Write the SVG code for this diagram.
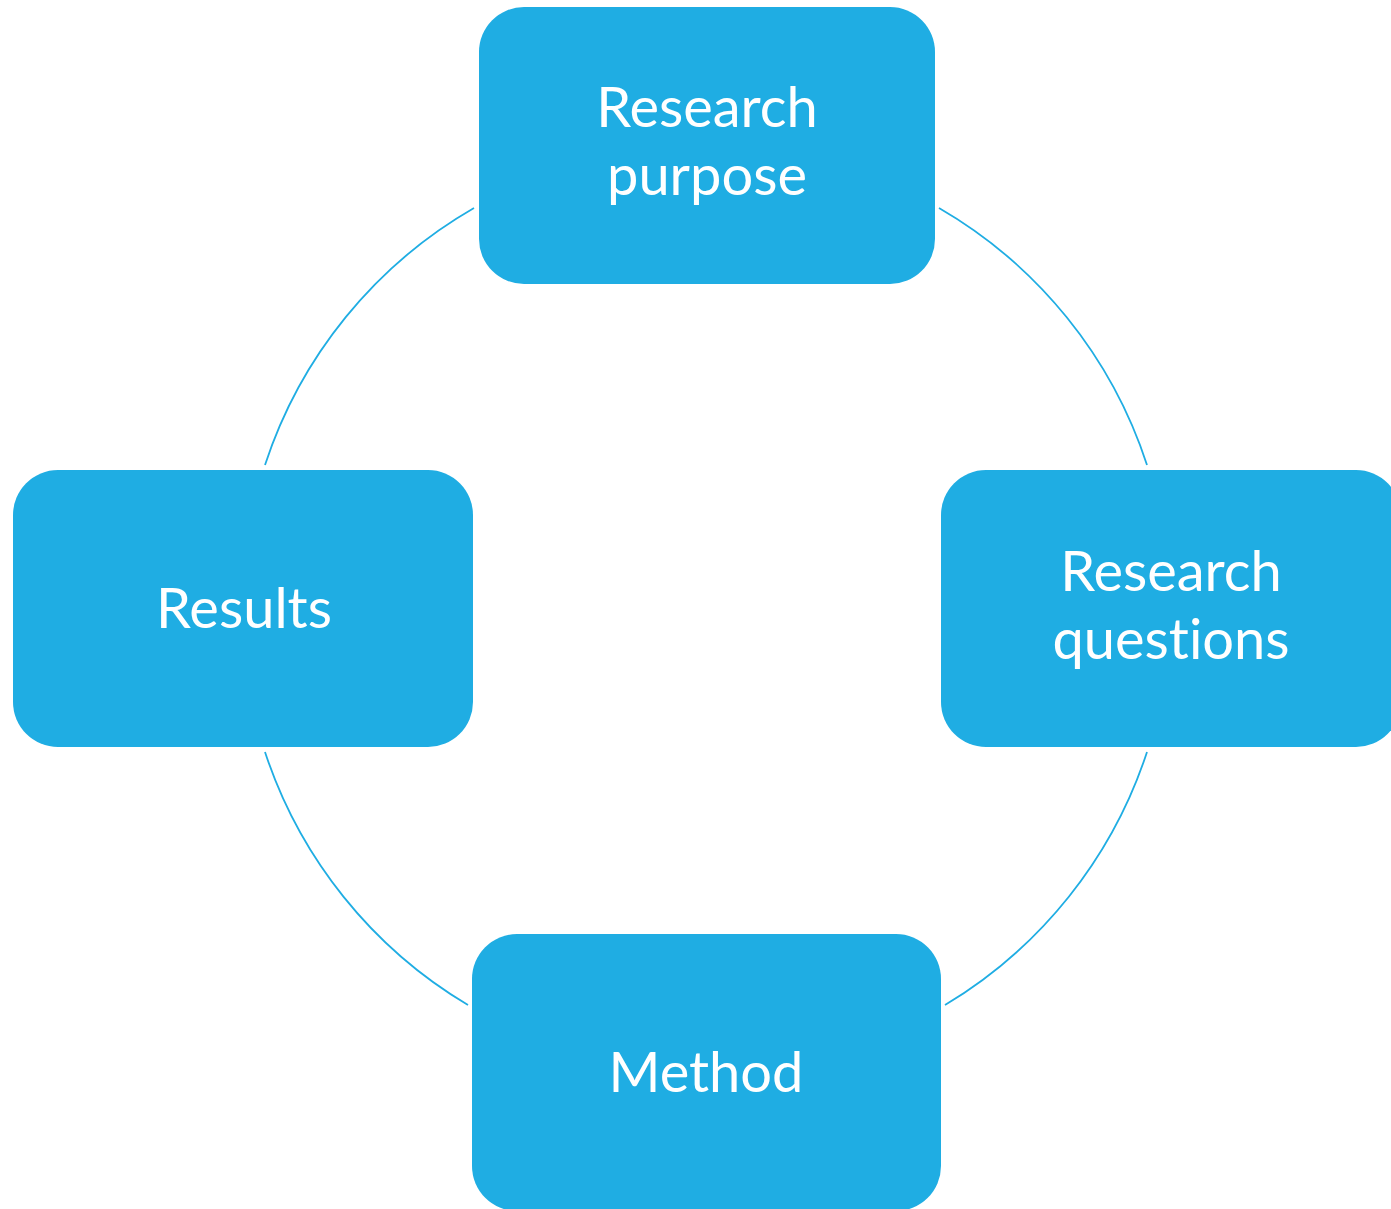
<svg xmlns="http://www.w3.org/2000/svg" width="1391" height="1209" viewBox="0 0 1391 1209">
<style>
.box{fill:#1fade3;}
.lbl{fill:#ffffff;font-family:Lato,"Open Sans","Liberation Sans",sans-serif;font-size:56px;text-anchor:middle;font-variant-ligatures:none;}
.arc{fill:none;stroke:#1fade3;stroke-width:1.8;}
</style>
<rect width="1391" height="1209" fill="#ffffff"/>
<g id="connectors">
<path class="arc" d="M939,208 A463,463 0 0 1 1147,465"/>
<path class="arc" d="M1147,752 A463,463 0 0 1 945,1005"/>
<path class="arc" d="M468,1005 A463,463 0 0 1 265,752"/>
<path class="arc" d="M265,465 A463,463 0 0 1 474,208"/>
</g>
<g id="node-purpose">
<rect class="box" x="479" y="7" width="456" height="277" rx="45"/>
<text class="lbl" x="707" y="127">Research</text>
<text class="lbl" x="707" y="195">purpose</text>
</g>
<g id="node-questions">
<rect class="box" x="941" y="470" width="460" height="277" rx="45"/>
<text class="lbl" x="1171" y="591">Research</text>
<text class="lbl" x="1171" y="659">questions</text>
</g>
<g id="node-method">
<rect class="box" x="472" y="934" width="469" height="277" rx="45"/>
<text class="lbl" x="706" y="1092">Method</text>
</g>
<g id="node-results">
<rect class="box" x="13" y="470" width="460" height="277" rx="45"/>
<text class="lbl" x="244" y="628">Results</text>
</g>
</svg>
